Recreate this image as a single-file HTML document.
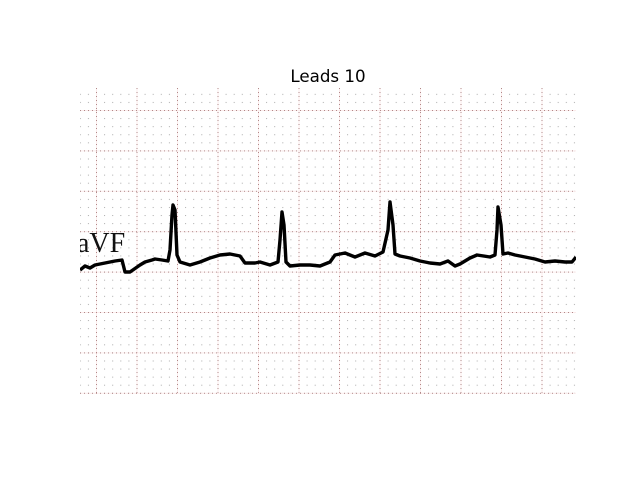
<!DOCTYPE html>
<html><head><meta charset="utf-8"><style>
body{margin:0;background:#fff;width:640px;height:480px;overflow:hidden;font-family:"DejaVu Sans","Liberation Sans",sans-serif}
</style></head><body>
<svg width="640" height="480" viewBox="0 0 640 480">
<defs>
<pattern id="minor" x="96" y="110" width="8.1" height="8.08" patternUnits="userSpaceOnUse">
<rect x="0" y="0" width="1" height="1" fill="#aaa"/>
</pattern>
<pattern id="majorV" x="96" y="0" width="40.5" height="4" patternUnits="userSpaceOnUse">
<rect x="0" y="0" width="1" height="4" fill="#fcecec"/>
<rect x="0" y="0" width="1" height="1" fill="#b08888"/>
</pattern>
<pattern id="majorH" x="0" y="110" width="4" height="40.4" patternUnits="userSpaceOnUse">
<rect x="0" y="0" width="4" height="1" fill="#fcecec"/>
<rect x="0" y="0" width="1" height="1" fill="#b08888"/>
</pattern>
<clipPath id="axclip"><rect x="80" y="88" width="496" height="306"/></clipPath>
</defs>
<text x="328" y="82" text-anchor="middle" font-size="16.7" fill="#000">Leads 10</text>
<g clip-path="url(#axclip)">
<rect x="80" y="88" width="496" height="306" fill="#fff"/>
<rect x="80" y="88" width="496" height="306" fill="url(#minor)"/>
<rect x="80" y="88" width="496" height="306" fill="url(#majorV)"/>
<rect x="80" y="88" width="496" height="306" fill="url(#majorH)"/>
<text x="77" y="252" font-family="'Liberation Serif',serif" font-size="28" fill="#111">aVF</text>
<path id="trace" fill="none" stroke="#000" stroke-width="3.4" stroke-linejoin="round"/>
</g>
</svg>
<script>
const times=[0,5,10,15,25,35,42,45,50,60,65,72,75,82,88,90,92,93,95,97,100,110,120,130,140,150,160,165,175,180,190,198,200,202,204,206,210,220,230,240,250,255,265,275,285,295,303,308,310,313,315,320,330,340,350,360,368,375,380,390,397,410,415,417,418,421,423,428,435,445,455,465,475,485,492,496];
const values=[-5,-1,-3,0,2,4,5,-7,-7,0,3,5,6,5,4,15,50,60,55,10,3,0,3,7,10,11,9,2,2,3,0,3,25,53,40,3,-1,0,0,-1,3,10,12,8,12,9,13,35,63,40,11,9,7,4,2,1,4,-1,1,7,10,8,10,35,58,40,11,12,10,8,6,3,4,3,3,8];
const xScale=t=>80+t;
const yScale=v=>265-v;
let d='';
times.forEach((t,i)=>{d+=(i?'L':'M')+xScale(t).toFixed(1)+','+yScale(values[i]).toFixed(1);});
document.getElementById('trace').setAttribute('d',d);
</script>
</body></html>
